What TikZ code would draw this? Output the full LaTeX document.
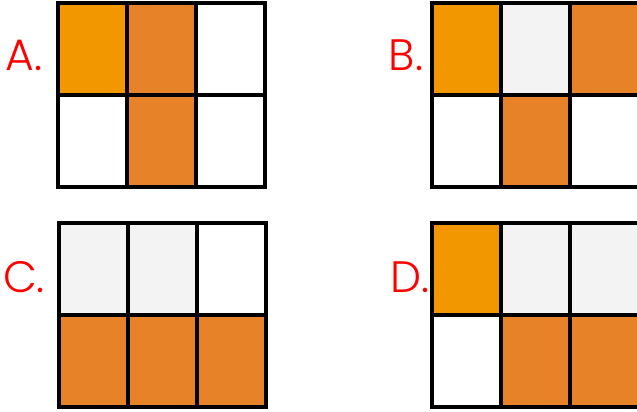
\documentclass[tikz,border=0pt]{standalone}
\usepackage{fontspec}
\setmainfont{Poppins}[UprightFont={* Light}]
\definecolor{orA}{RGB}{243,151,0}
\definecolor{orB}{RGB}{232,130,40}
\definecolor{lg}{RGB}{243,243,243}
\definecolor{lab}{RGB}{255,0,0}
\tikzset{
  cell/.style={draw=black, line width=4pt},
  lbl/.style={text=lab, font=\fontsize{44}{44}\selectfont, inner sep=0pt, anchor=center}
}
\newcommand{\gridcells}[9]{%
  \fill[#3] (#1,#2) rectangle ++(69,92);
  \fill[#4] (#1+69,#2) rectangle ++(69,92);
  \fill[#5] (#1+138,#2) rectangle ++(69,92);
  \fill[#6] (#1,#2+92) rectangle ++(69,92);
  \fill[#7] (#1+69,#2+92) rectangle ++(69,92);
  \fill[#8] (#1+138,#2+92) rectangle ++(69,92);
  \draw[cell] (#1,#2) rectangle ++(207,184);
  \draw[cell] (#1,#2+92) -- ++(207,0);
  \draw[cell] (#1+69,#2) -- ++(0,184);
  \draw[cell] (#1+138,#2) -- ++(0,184);
}
\begin{document}
\begin{tikzpicture}[x=1pt,y=-1pt]
\useasboundingbox (0,0) rectangle (637,412);
\fill[white] (0,0) rectangle (637,412);
\gridcells{58}{3}{orA}{orB}{white}{white}{orB}{white}{A}
\gridcells{432}{3}{orA}{lg}{orB}{white}{orB}{white}{B}
\gridcells{59}{223}{lg}{lg}{white}{orB}{orB}{orB}{C}
\gridcells{432}{223}{orA}{lg}{lg}{white}{orB}{orB}{D}
\node[lbl] (la) at (24,55) {A.};
\node[lbl] (lb) at (406,55) {B.};
\node[lbl] (lc) at (24,277) {C.};
\node[lbl] (ld) at (410,277) {D.};
\end{tikzpicture}
\end{document}
